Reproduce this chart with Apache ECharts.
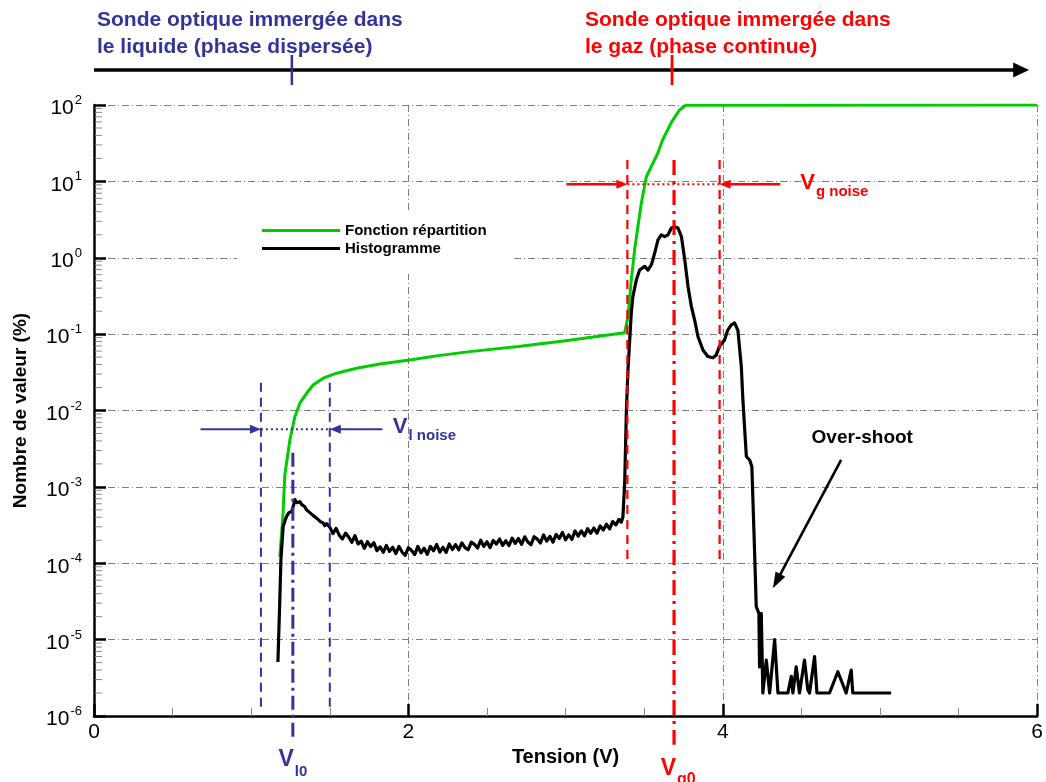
<!DOCTYPE html>
<html><head><meta charset="utf-8">
<script src="https://cdn.jsdelivr.net/npm/echarts@6/dist/echarts.min.js"></script>
<style>html,body{margin:0;padding:0;background:#fff}#c{width:1046px;height:782px}</style>
</head><body><div id="c"></div>
<script>
const FONT = '"Liberation Sans", Arial, sans-serif';
const BLUE = '#333399';
const RED = '#ff0000';
const seriesNames = ['Fonction répartition', 'Histogramme'];
const xAxisName = 'Tension (V)';
const yAxisName = 'Nombre de valeur (%)';
const titleLiquid = 'Sonde optique immergée dans\nle liquide (phase dispersée)';
const titleGaz = 'Sonde optique immergée dans\nle gaz (phase continue)';

// Fonction répartition (cumulative), [V, %]
const cdfData = [
  [1.182, 1.21e-4], [1.202, 4.3e-4], [1.214, 1.44e-3], [1.246, 4.1e-3], [1.278, 8.3e-3],
  [1.310, 1.25e-2], [1.352, 1.68e-2], [1.394, 2.16e-2], [1.458, 2.65e-2], [1.543, 3.08e-2],
  [1.670, 3.58e-2], [1.818, 4.07e-2], [2.009, 4.59e-2], [2.179, 5.19e-2], [2.390, 5.9e-2],
  [2.70, 6.9e-2], [3.0, 8.2e-2], [3.376, 0.104], [3.397, 0.17], [3.418, 0.51],
  [3.439, 1.26], [3.460, 2.55], [3.482, 5.2], [3.514, 11.5], [3.545, 15.6],
  [3.587, 23.5], [3.617, 34.8], [3.675, 60], [3.725, 86], [3.763, 99], [6.0, 100]
];

// Histogramme, [V, %]
const histData = [
  [1.170, 5.1e-6], [1.182, 3.3e-5], [1.189, 1.1e-4], [1.203, 3.0e-4], [1.215, 3.6e-4],
  [1.225, 4.1e-4], [1.240, 4.6e-4], [1.257, 4.75e-4], [1.268, 5.6e-4], [1.278, 6.8e-4],
  [1.290, 6.2e-4], [1.300, 6.5e-4], [1.310, 6.4e-4], [1.320, 5.9e-4], [1.330, 6.1e-4],
  [1.341, 5.5e-4], [1.352, 5.0e-4], [1.362, 5.3e-4], [1.373, 4.6e-4], [1.385, 4.8e-4],
  [1.395, 4.2e-4], [1.405, 4.4e-4], [1.416, 3.9e-4], [1.428, 4.0e-4], [1.440, 3.5e-4],
  [1.456, 3.4e-4], [1.468, 3.1e-4], [1.480, 3.3e-4], [1.50, 2.97e-4], [1.52, 2.44e-4],
  [1.54, 2.86e-4], [1.56, 2.33e-4], [1.58, 2.07e-4], [1.60, 2.48e-4], [1.62, 2.21e-4],
  [1.64, 1.88e-4], [1.66, 2.29e-4], [1.68, 1.79e-4], [1.70, 1.94e-4], [1.72, 1.57e-4],
  [1.74, 1.91e-4], [1.76, 1.65e-4], [1.78, 1.86e-4], [1.80, 1.46e-4], [1.82, 1.64e-4],
  [1.84, 1.39e-4], [1.86, 1.71e-4], [1.88, 1.43e-4], [1.90, 1.62e-4], [1.92, 1.34e-4],
  [1.94, 1.66e-4], [1.96, 1.40e-4], [1.98, 1.27e-4], [2.00, 1.60e-4], [2.02, 1.47e-4],
  [2.04, 1.30e-4], [2.06, 1.66e-4], [2.08, 1.37e-4], [2.10, 1.57e-4], [2.12, 1.31e-4],
  [2.14, 1.66e-4], [2.16, 1.46e-4], [2.18, 1.76e-4], [2.20, 1.40e-4], [2.22, 1.62e-4],
  [2.24, 1.39e-4], [2.26, 1.79e-4], [2.28, 1.51e-4], [2.30, 1.76e-4], [2.32, 1.50e-4],
  [2.34, 1.85e-4], [2.36, 1.60e-4], [2.38, 1.50e-4], [2.40, 1.89e-4], [2.42, 1.77e-4],
  [2.44, 1.58e-4], [2.46, 2.00e-4], [2.48, 1.66e-4], [2.50, 1.91e-4], [2.52, 1.60e-4],
  [2.54, 1.99e-4], [2.56, 1.78e-4], [2.58, 2.08e-4], [2.60, 1.71e-4], [2.62, 1.97e-4],
  [2.64, 1.70e-4], [2.66, 2.13e-4], [2.68, 1.82e-4], [2.70, 2.11e-4], [2.72, 1.77e-4],
  [2.74, 2.22e-4], [2.76, 1.90e-4], [2.78, 1.75e-4], [2.80, 2.23e-4], [2.82, 2.07e-4],
  [2.84, 1.84e-4], [2.86, 2.35e-4], [2.88, 1.95e-4], [2.90, 2.25e-4], [2.92, 1.89e-4],
  [2.94, 2.39e-4], [2.96, 2.11e-4], [2.98, 2.53e-4], [3.00, 2.03e-4], [3.02, 2.36e-4],
  [3.04, 2.05e-4], [3.06, 2.65e-4], [3.08, 2.27e-4], [3.10, 2.65e-4], [3.12, 2.28e-4],
  [3.14, 2.83e-4], [3.16, 2.47e-4], [3.18, 2.89e-4], [3.20, 2.48e-4], [3.22, 3.08e-4],
  [3.24, 2.73e-4], [3.26, 3.24e-4], [3.28, 2.82e-4], [3.30, 3.52e-4], [3.32, 3.18e-4],
  [3.34, 3.75e-4], [3.355, 3.46e-4], [3.365, 4.1e-4], [3.376, 1.13e-3],
  [3.387, 1.02e-2], [3.397, 3.4e-2], [3.418, 0.189], [3.428, 0.31], [3.450, 0.51],
  [3.471, 0.69], [3.503, 0.77], [3.524, 0.69], [3.546, 0.81], [3.567, 1.16],
  [3.588, 1.71], [3.609, 1.99], [3.630, 1.89], [3.651, 1.99], [3.673, 2.45],
  [3.694, 2.55], [3.715, 2.45], [3.737, 1.89], [3.758, 0.94], [3.779, 0.42],
  [3.800, 0.23], [3.821, 0.153], [3.842, 0.093], [3.874, 0.062], [3.905, 0.051],
  [3.937, 0.049], [3.958, 0.053], [3.979, 0.069], [4.011, 0.084], [4.032, 0.113],
  [4.054, 0.132], [4.075, 0.14], [4.096, 0.113], [4.118, 0.0376], [4.128, 0.0138],
  [4.150, 2.5e-3], [4.171, 2.25e-3], [4.185, 1.85e-3], [4.202, 1.5e-4], [4.213, 2.7e-5],
  [4.230, 2.2e-5], [4.234, 4.4e-6], [4.245, 2.2e-5], [4.255, 2e-6], [4.277, 5.4e-6],
  [4.298, 2e-6], [4.330, 1e-5], [4.351, 2e-6], [4.414, 2e-6], [4.436, 3.3e-6],
  [4.446, 2e-6], [4.467, 4.4e-6], [4.488, 2e-6], [4.520, 5.4e-6], [4.541, 2.2e-6],
  [4.552, 2e-6], [4.584, 6e-6], [4.599, 2e-6], [4.679, 2e-6], [4.732, 3.8e-6],
  [4.785, 2e-6], [4.817, 4e-6], [4.827, 2e-6], [5.071, 2e-6]
];

// annotation anchors (data units)
const vlNoise = [1.062, 1.50];
const vl0 = 1.265;
const vgNoise = [3.393, 3.98];
const vg0 = 3.69;

const chart = echarts.init(document.getElementById('c'), null, {renderer: 'canvas'});
const gridLine = {color: '#7f7f7f', width: 1, type: [7, 3, 1, 3]};

chart.setOption({
  animation: false,
  backgroundColor: '#fff',
  grid: {left: 94, right: 8, top: 105, bottom: 66, containLabel: false},
  legend: {
    orient: 'vertical', left: 237, top: 211,
    padding: [12, 26, 18, 25], itemGap: 3,
    backgroundColor: '#fff',
    itemWidth: 78, itemHeight: 3, icon: 'rect',
    textStyle: {fontFamily: FONT, fontWeight: 'bold', fontSize: 15, color: '#000'},
    data: seriesNames
  },
  xAxis: {
    type: 'value', min: 0, max: 6, interval: 2,
    name: xAxisName, nameLocation: 'middle', nameGap: 31,
    nameTextStyle: {fontFamily: FONT, fontWeight: 'bold', fontSize: 20, color: '#000'},
    axisLine: {show: true, onZero: false, lineStyle: {color: '#000', width: 2.5}},
    axisTick: {show: true, inside: true, length: 12, lineStyle: {color: '#000', width: 2.5}},
    minorTick: {show: true, splitNumber: 4, length: 8, lineStyle: {color: '#888', width: 1}},
    axisLabel: {fontFamily: FONT, fontSize: 21, color: '#000', margin: 6, showMinLabel: true, showMaxLabel: true},
    splitLine: {show: true, lineStyle: gridLine}
  },
  yAxis: {
    type: 'log', logBase: 10, min: 1e-6, max: 100, interval: 1,
    name: yAxisName, nameLocation: 'middle', nameGap: 64,
    nameTextStyle: {fontFamily: FONT, fontWeight: 'bold', fontSize: 19, color: '#000'},
    axisLine: {show: true, onZero: false, lineStyle: {color: '#000', width: 2.5}},
    axisTick: {show: true, inside: true, length: 12, lineStyle: {color: '#000', width: 2.5}},
    axisLabel: {
      margin: 12, showMinLabel: true, showMaxLabel: true,
      formatter: v => '{b|10}{s|' + Math.round(Math.log10(v)) + '}',
      rich: {
        b: {fontFamily: FONT, fontSize: 21, color: '#000', verticalAlign: 'bottom', lineHeight: 28},
        s: {fontFamily: FONT, fontSize: 13, color: '#000', verticalAlign: 'bottom', lineHeight: 28, padding: [0, 0, 12, 1]}
      }
    },
    splitLine: {show: true, lineStyle: gridLine}
  },
  series: [
    {name: seriesNames[0], type: 'line', data: cdfData, showSymbol: false, symbol: 'none',
     lineStyle: {color: '#00cc00', width: 3}, itemStyle: {color: '#00cc00'}, z: 3},
    {name: seriesNames[1], type: 'line', data: histData, showSymbol: false, symbol: 'none',
     lineStyle: {color: '#000', width: 3.2, join: 'round'}, itemStyle: {color: '#000'}, z: 4}
  ]
});

function P(x, y) { return chart.convertToPixel({gridIndex: 0}, [x, y]); }

const els = [];
function seg(x1, y1, x2, y2, color, width, dash) {
  els.push({type: 'line', silent: true, z: 100,
    shape: {x1, y1, x2, y2},
    style: {stroke: color, lineWidth: width, lineDash: dash || null}});
}
function head(x1, y1, x2, y2, color, len, half) {
  const a = Math.atan2(y2 - y1, x2 - x1);
  const bx = x2 - len * Math.cos(a), by = y2 - len * Math.sin(a);
  const nx = -Math.sin(a), ny = Math.cos(a);
  els.push({type: 'polygon', silent: true, z: 101,
    shape: {points: [[x2, y2], [bx + half * nx, by + half * ny], [bx - half * nx, by - half * ny]]},
    style: {fill: color}});
}
function arrow(x1, y1, x2, y2, color, width, len, half) {
  const a = Math.atan2(y2 - y1, x2 - x1);
  seg(x1, y1, x2 - len * 0.7 * Math.cos(a), y2 - len * 0.7 * Math.sin(a), color, width);
  head(x1, y1, x2, y2, color, len, half);
}
function txt(x, y, text, rich) {
  els.push({type: 'text', silent: true, z: 110, x, y,
    style: {text, rich, align: 'left', verticalAlign: 'middle'}});
}

// log minor ticks on y axis
const x0px = P(0, 1)[0];
for (let d = -6; d <= 1; d++) {
  for (let k = 2; k <= 9; k++) {
    const yy = P(0, k * Math.pow(10, d))[1];
    seg(x0px + 1, yy, x0px + 8, yy, '#888', 1);
  }
}

// top direction arrow with phase titles
const rightEnd = P(6, 1)[0];
seg(x0px, 70, rightEnd - 20, 70, '#000', 3.5);
head(x0px, 70, rightEnd - 8, 70, '#000', 16, 7.5);
seg(P(vl0, 1)[0] - 1, 55, P(vl0, 1)[0] - 1, 85, BLUE, 2.5);
seg(P(vg0, 1)[0] - 2, 55, P(vg0, 1)[0] - 2, 85, RED, 2.8);
els.push({type: 'text', silent: true, z: 110, x: 97, y: 7,
  style: {text: titleLiquid, fill: BLUE, font: 'bold 21px ' + FONT, lineHeight: 27, verticalAlign: 'top'}});
els.push({type: 'text', silent: true, z: 110, x: 585, y: 7,
  style: {text: titleGaz, fill: RED, font: 'bold 21px ' + FONT, lineHeight: 27, verticalAlign: 'top'}});

// liquid noise band
const bTop = 2.3e-2, bBot = 1.13e-6;
[vlNoise[0], vlNoise[1]].forEach(v => {
  const a = P(v, bTop), b = P(v, bBot);
  seg(a[0], a[1], b[0], b[1], BLUE, 2, [9, 6]);
});
{
  const a = P(vl0, 2.8e-3), b = P(vl0, 5.3e-7);
  seg(a[0], a[1], b[0], b[1], BLUE, 3, [14, 5, 3, 5]);
}
{
  const yv = 5.7e-3;
  const L = P(vlNoise[0], yv), R = P(vlNoise[1], yv);
  seg(L[0], L[1], R[0], R[1], BLUE, 2, [2, 3]);
  const s1 = P(0.678, yv), s2 = P(1.835, yv);
  arrow(s1[0], s1[1], L[0], L[1], BLUE, 2, 11, 4.5);
  arrow(s2[0], s2[1], R[0], R[1], BLUE, 2, 11, 4.5);
  const t = P(1.901, yv);
  txt(t[0], t[1], '{v|V}{s|l noise}', {
    v: {fontFamily: FONT, fontWeight: 'bold', fontSize: 22, fill: BLUE, verticalAlign: 'bottom', lineHeight: 28, padding: [0, 1, 5, 0]},
    s: {fontFamily: FONT, fontWeight: 'bold', fontSize: 15, fill: BLUE, verticalAlign: 'bottom', lineHeight: 28}
  });
}

// gas noise band
const rTop = 19.0, rBot = 1.14e-4;
[vgNoise[0], vgNoise[1]].forEach(v => {
  const a = P(v, rTop), b = P(v, rBot);
  seg(a[0], a[1], b[0], b[1], RED, 2.2, [9, 6]);
});
{
  const a = P(vg0, rTop), b = P(vg0, 4.2e-7);
  seg(a[0], a[1], b[0], b[1], RED, 3.2, [15, 6, 3, 6]);
}
{
  const yv = 9.16;
  const L = P(vgNoise[0], yv), R = P(vgNoise[1], yv);
  seg(L[0], L[1], R[0], R[1], RED, 2, [2, 3]);
  const s1 = P(3.005, yv), s2 = P(4.366, yv);
  arrow(s1[0], s1[1], L[0], L[1], RED, 2.4, 11, 4.5);
  arrow(s2[0], s2[1], R[0], R[1], RED, 2.4, 11, 4.5);
  const t = P(4.493, yv);
  txt(t[0], t[1] + 1, '{v|V}{s|g noise}', {
    v: {fontFamily: FONT, fontWeight: 'bold', fontSize: 22, fill: RED, verticalAlign: 'bottom', lineHeight: 28, padding: [0, 1, 5, 0]},
    s: {fontFamily: FONT, fontWeight: 'bold', fontSize: 15, fill: RED, verticalAlign: 'bottom', lineHeight: 28}
  });
}

// V_l0 / V_g0 labels under the axis
{
  const gb = P(0, 1e-6)[1];
  const a = P(1.173, 1e-6);
  txt(a[0], gb + 47, '{v|V}{s|l0}', {
    v: {fontFamily: FONT, fontWeight: 'bold', fontSize: 23, fill: BLUE, verticalAlign: 'bottom', lineHeight: 32, padding: [0, 1, 8, 0]},
    s: {fontFamily: FONT, fontWeight: 'bold', fontSize: 15, fill: BLUE, verticalAlign: 'bottom', lineHeight: 32}
  });
  const b = P(3.605, 1e-6);
  txt(b[0], gb + 56, '{v|V}{s|g0}', {
    v: {fontFamily: FONT, fontWeight: 'bold', fontSize: 23, fill: RED, verticalAlign: 'bottom', lineHeight: 32, padding: [0, 1, 8, 0]},
    s: {fontFamily: FONT, fontWeight: 'bold', fontSize: 16, fill: RED, verticalAlign: 'bottom', lineHeight: 32}
  });
}

// Over-shoot
{
  const t = P(4.565, 4.4e-3);
  els.push({type: 'text', silent: true, z: 110, x: t[0], y: t[1],
    style: {text: 'Over-shoot', fill: '#000', font: 'bold 19px ' + FONT, verticalAlign: 'middle'}});
  const a = P(4.753, 2.25e-3), b = P(4.319, 4.7e-5);
  arrow(a[0], a[1], b[0], b[1], '#000', 2.6, 16, 5.5);
}

chart.setOption({graphic: {elements: els}});
</script>
</body></html>
